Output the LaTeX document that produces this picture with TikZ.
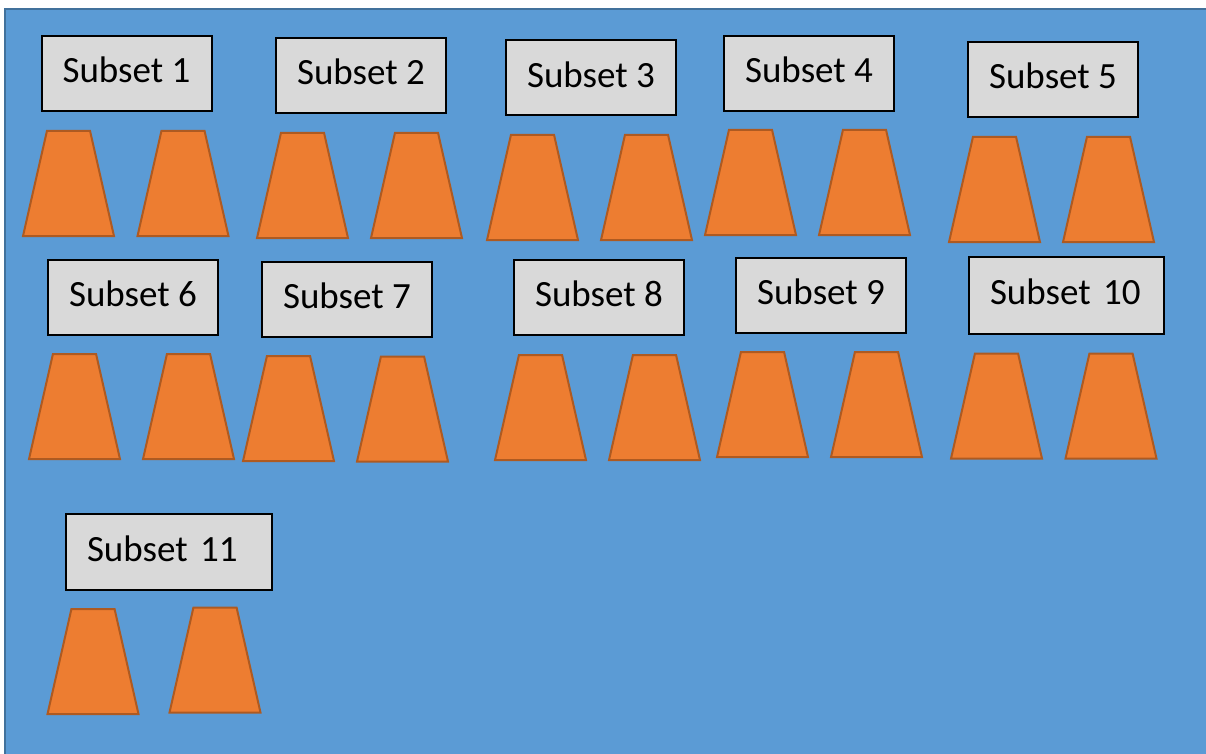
\documentclass[tikz,border=0pt]{standalone}
\usepackage{fontspec}
\setmainfont{Carlito}
\usepackage{xcolor}
\usetikzlibrary{shapes.geometric, positioning}

\definecolor{blueback}{HTML}{5B9BD5}
\definecolor{blueedge}{HTML}{41719C}
\definecolor{conefill}{HTML}{ED7D31}
\definecolor{coneedge}{HTML}{AE5A21}
\definecolor{boxgrey}{HTML}{D9D9D9}

\begin{document}
\begin{tikzpicture}[
    x=1pt, y=-1pt,
    subset/.style={rectangle, draw=black, line width=2pt, fill=boxgrey, minimum width=170pt, inner xsep=21pt, minimum height=75pt, text depth=7pt, font=\fontsize{37}{44}\selectfont},
    widesubset/.style={subset, text width=#1, align=left},
    cone/.style={trapezium, trapezium stretches=true, trapezium left angle=61, trapezium right angle=61, minimum width=91pt, minimum height=105pt, inner sep=2pt, draw=coneedge, line width=2pt, fill=conefill}
]
    \useasboundingbox (0,0) rectangle (1206,754);
    \clip (0,0) rectangle (1206,754);

    % Background
    \draw[blueedge, line width=2pt, fill=blueback] (5,9) rectangle (1220,770);

    % Subsets, top row
    \node[subset] (s1) at (126.5,73.5) {Subset 1};
    \node[subset] (s2) at (361,75.5) {Subset 2};
    \node[subset] (s3) at (591,78) {Subset 3};
    \node[subset] (s4) at (809,73.5) {Subset 4};
    \node[subset] (s5) at (1053,79.5) {Subset 5};

    % Cones, top row
    \node[cone] (c1a) at (68.5,183.5) {};
    \node[cone] (c1b) at (183,183.5) {};
    \node[cone] (c2a) at (302.5,185.5) {};
    \node[cone] (c2b) at (416.5,185.5) {};
    \node[cone] (c3a) at (532.5,187.5) {};
    \node[cone] (c3b) at (646.5,187.5) {};
    \node[cone] (c4a) at (750.5,182.5) {};
    \node[cone] (c4b) at (864.5,182.5) {};
    \node[cone] (c5a) at (994.5,189.5) {};
    \node[cone] (c5b) at (1108.5,189.5) {};

    % Subsets, middle row
    \node[subset] (s6) at (133,297.5) {Subset 6};
    \node[subset] (s7) at (347,299.5) {Subset 7};
    \node[subset] (s8) at (599,297.5) {Subset 8};
    \node[subset] (s9) at (821,295.5) {Subset 9};
    \node[widesubset=153pt, minimum height=77pt] (s10) at (1066.5,295.5) {Subset 10};

    % Cones, middle row
    \node[cone] (c6a) at (74.5,406.5) {};
    \node[cone] (c6b) at (188.5,406.5) {};
    \node[cone] (c7a) at (288.5,408.5) {};
    \node[cone] (c7b) at (402.5,409) {};
    \node[cone] (c8a) at (540.5,407.5) {};
    \node[cone] (c8b) at (654.5,407.5) {};
    \node[cone] (c9a) at (762.5,404.5) {};
    \node[cone] (c9b) at (876.5,404.5) {};
    \node[cone] (c10a) at (996.5,406) {};
    \node[cone] (c10b) at (1111,406) {};

    % Last subset
    \node[widesubset=164pt, minimum height=76pt] (s11) at (169,552) {Subset 11};
    \node[cone] (c11a) at (93,661.5) {};
    \node[cone] (c11b) at (215,660) {};
\end{tikzpicture}
\end{document}
